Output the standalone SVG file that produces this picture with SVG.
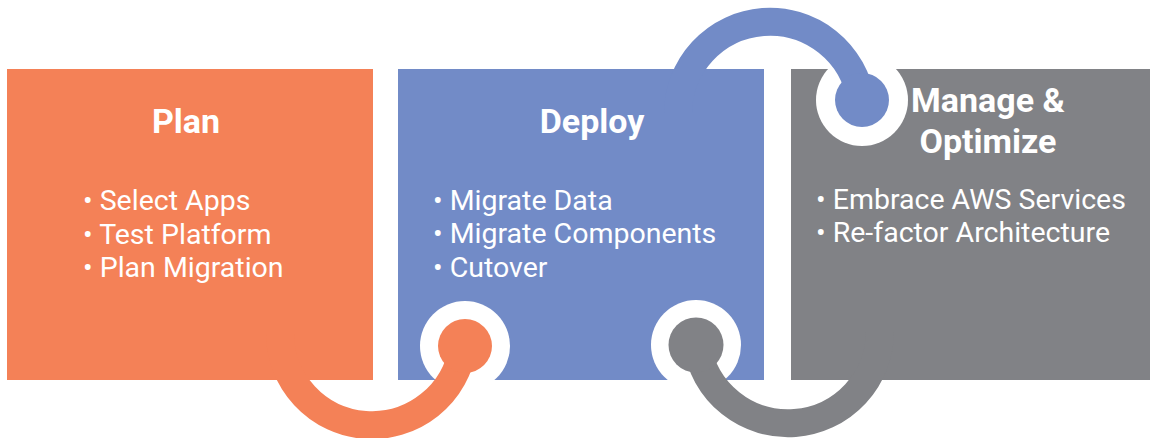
<svg xmlns="http://www.w3.org/2000/svg" width="1150" height="438" viewBox="0 0 1150 438">
  <style>
    .title { font-family: Roboto, "Liberation Sans", sans-serif; font-weight: bold; font-size: 34px; fill: #ffffff; text-anchor: middle; }
    .item { font-family: Roboto, "Liberation Sans", sans-serif; font-size: 28.5px; fill: #ffffff; }
    .ring { fill: #ffffff; }
    .arc { fill: none; stroke-width: 28; stroke-linecap: butt; }
  </style>
  <rect width="1150" height="438" fill="#ffffff"/>
  <g id="plan">
    <rect x="7" y="69" width="366" height="311" fill="#F48157"/>
    <text class="title" x="186" y="133">Plan</text>
    <text class="item" x="83" y="210">• Select Apps</text>
    <text class="item" x="83" y="243.5">• Test Platform</text>
    <text class="item" x="83" y="277">• Plan Migration</text>
  </g>
  <g id="deploy">
    <rect x="398" y="69" width="366" height="311" fill="#728BC7"/>
    <text class="title" x="592" y="133">Deploy</text>
    <text class="item" x="433" y="209.5">• Migrate Data</text>
    <text class="item" x="433" y="243">• Migrate Components</text>
    <text class="item" x="433" y="276.5">• Cutover</text>
  </g>
  <g id="manage">
    <rect x="791" y="69" width="359" height="311" fill="#818286"/>
  </g>
  <g id="connectors">
    <circle class="ring" cx="465" cy="346" r="45"/>
    <circle class="ring" cx="862" cy="100" r="46"/>
    <circle class="ring" cx="696" cy="345" r="45"/>
    <path class="arc" stroke="#F48157" d="M 280 333 A 92 92 0 0 0 463 346.7"/>
    <circle cx="465" cy="346" r="27" fill="#F48157"/>
    <path class="arc" stroke="#728BC7" d="M 678 114 A 92 92 0 0 1 861 100.2"/>
    <circle cx="862" cy="100" r="27" fill="#728BC7"/>
    <path class="arc" stroke="#818286" d="M 697 344.8 A 92 92 0 0 0 880 331"/>
    <circle cx="696" cy="345" r="27.5" fill="#818286"/>
  </g>
  <g id="manage-text">
    <text class="title" x="988" y="112">Manage &amp;</text>
    <text class="title" x="988" y="153">Optimize</text>
    <text class="item" x="816" y="208.5">• Embrace AWS Services</text>
    <text class="item" x="816" y="242">• Re-factor Architecture</text>
  </g>
</svg>
